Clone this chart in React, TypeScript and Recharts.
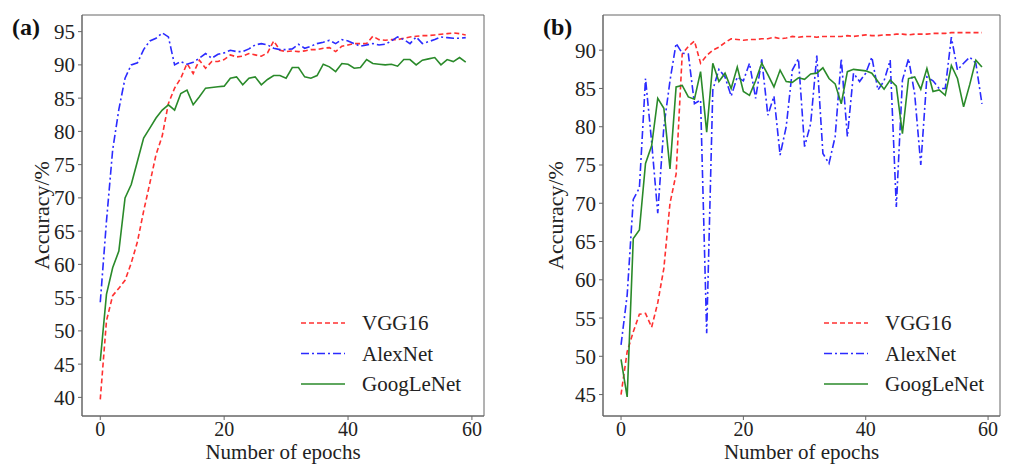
import { Line, LineChart, ReferenceArea, XAxis, YAxis } from 'recharts';

const FONT = '"Liberation Serif", "Times New Roman", serif';

// panel (a)
const vggA = [39.7, 51.5, 55.3, 56.4, 57.6, 60.2, 63.4, 68, 72.2, 76.5, 79.3, 84.2, 86.5, 88, 90.2, 88.7, 90.7, 89.5, 90.5, 90.5, 90.8, 91.5, 91.2, 91.3, 91.7, 91.5, 91.3, 91.8, 93.6, 92.2, 92, 92.1, 92, 92.1, 92.3, 92.3, 92.5, 92.6, 92, 92.8, 93, 93.2, 93.2, 93.2, 94.3, 93.8, 93.7, 93.8, 93.8, 94, 94.2, 94.3, 94.4, 94.4, 94.5, 94.6, 94.7, 94.8, 94.7, 94.5];
const alexA = [54.3, 66.5, 77.2, 83.3, 88, 90, 90.3, 92.3, 93.6, 94, 94.8, 94.2, 90, 90.5, 90.1, 90.4, 91, 91.7, 91, 91.6, 91.8, 92.2, 92, 92, 92.4, 93, 93.2, 93, 92.5, 92.3, 92.3, 92.4, 93.1, 92.5, 92.8, 93.2, 93.4, 93.7, 93.2, 93.8, 93.6, 93.2, 92.8, 93, 93.2, 93, 93.1, 93.6, 94.2, 93.8, 93.2, 94.2, 93.2, 93.5, 93.8, 94.2, 94.1, 94, 94, 94.1];
const googA = [45.5, 55.5, 59.5, 62, 70, 72, 75.5, 79, 80.5, 82, 83.2, 84, 83.2, 85.7, 86.2, 84, 85.2, 86.5, 86.6, 86.7, 86.8, 88, 88.2, 87, 88, 88.2, 87, 87.8, 88.4, 88.4, 88, 89.6, 89.6, 88.2, 88, 88.4, 90.1, 89.7, 89, 90.2, 90.1, 89.5, 89.6, 90.8, 90.2, 90.1, 90, 90.1, 89.8, 90.8, 90.8, 90, 90.7, 90.9, 91.1, 90, 90.8, 90.5, 91.1, 90.4];

// panel (b)
const vggB = [45, 50.6, 53.2, 55.5, 55.6, 53.8, 57, 61.5, 70, 73.8, 89.5, 90.5, 91.2, 88.3, 89.3, 90, 90.4, 91, 91.5, 91.4, 91.3, 91.4, 91.4, 91.5, 91.5, 91.7, 91.5, 91.6, 91.8, 91.7, 91.8, 91.8, 91.7, 91.8, 91.8, 91.8, 91.8, 91.9, 91.8, 91.9, 92, 91.9, 91.9, 92, 92, 92.1, 92.1, 92, 92.1, 92.1, 92.1, 92.2, 92.2, 92.2, 92.3, 92.3, 92.3, 92.3, 92.3, 92.3];
const alexB = [51.5, 58, 70.5, 72, 86.3, 78, 68.7, 80, 86, 90.9, 89.6, 89.5, 83, 83.5, 53, 84.8, 87.5, 86.5, 84, 86.5, 86, 88.3, 83.7, 88.8, 81.5, 84, 76.3, 80, 87.4, 88.9, 77.4, 80.4, 89.3, 76.5, 75.2, 78.7, 88.9, 78.7, 87, 85.9, 87, 89.1, 84.8, 86, 88.7, 69.5, 86.1, 88.9, 84.3, 75, 86.5, 86, 85, 85, 91.7, 87.4, 88.3, 89.1, 88.3, 83];
const googB = [49.6, 44.7, 65.4, 66.5, 75.2, 77.5, 83.7, 82.4, 74.5, 85.2, 85.4, 83.9, 83.6, 87.2, 79.3, 88.3, 85.9, 87, 85, 87.8, 84.6, 84.1, 86, 88.3, 86.8, 85.2, 87.4, 85.9, 85.8, 86.4, 86.2, 86.9, 87, 87.7, 86.3, 85.6, 83, 87.2, 87.5, 87.4, 87.3, 87, 85.9, 84.9, 86.1, 85.3, 79.1, 86.3, 86.5, 84.9, 87.6, 84.6, 84.8, 84.1, 88, 86.3, 82.6, 85.5, 88.7, 87.8];

const xTicks = [0, 20, 40, 60];
const yTicksA = [40, 45, 50, 55, 60, 65, 70, 75, 80, 85, 90, 95];
const yTicksB = [45, 50, 55, 60, 65, 70, 75, 80, 85, 90];
const seriesNames = ['VGG16', 'AlexNet', 'GoogLeNet'];

const X_DOMAIN: [number, number] = [-2.95, 61.95];
const RED = '#ff3030';
const BLUE = '#2b2bff';
const GREEN = '#2a8a2a';
const AXIS = '#666';

const styles = [
  { key: 'vgg', color: RED, dash: '5 3' },
  { key: 'alex', color: BLUE, dash: '8 3 2 3' },
  { key: 'goog', color: GREEN, dash: undefined },
];

function rows(vgg: number[], alex: number[], goog: number[]) {
  return vgg.map((v, i) => ({ epoch: i, vgg: v, alex: alex[i], goog: goog[i] }));
}

function LegendBox({ left }: { left: number }) {
  return (
    <svg width={200} height={95} style={{ position: 'absolute', left, top: 308, fontFamily: FONT }}>
      {styles.map((s, i) => (
        <g key={s.key}>
          <line x1={1} x2={45} y1={15 + i * 30.5} y2={15 + i * 30.5} stroke={s.color} strokeWidth={1.6} strokeDasharray={s.dash} />
          <text x={62} y={15 + i * 30.5} dominantBaseline="central" fontSize={21} fill="#222">{seriesNames[i]}</text>
        </g>
      ))}
    </svg>
  );
}

type PanelProps = {
  left: number;
  width: number;
  yWidth: number;
  right: number;
  yDomain: [number, number];
  yTicks: number[];
  vgg: number[];
  alex: number[];
  goog: number[];
  letter: string;
  letterX: number;
  legendLeft: number;
  yLabelDx: number;
};

function Panel(p: PanelProps) {
  const data = rows(p.vgg, p.alex, p.goog);
  const tickStyle = { fill: '#222', fontSize: 20, fontFamily: FONT };
  return (
    <div style={{ position: 'absolute', left: p.left, top: 0, width: p.width, height: 464 }}>
      <LineChart width={p.width} height={464} data={data} margin={{ top: 15, right: p.right, bottom: 0, left: 0 }}>
        <XAxis
          dataKey="epoch"
          type="number"
          domain={X_DOMAIN}
          ticks={xTicks}
          interval={0}
          allowDataOverflow
          height={48}
          tickSize={4}
          tickMargin={2}
          stroke={AXIS}
          tick={tickStyle}
          label={{ value: 'Number of epochs', position: 'center', dy: 12, fill: '#222', fontSize: 21, fontFamily: FONT }}
        />
        <YAxis
          type="number"
          domain={p.yDomain}
          ticks={p.yTicks}
          interval={0}
          allowDataOverflow
          width={p.yWidth}
          tickSize={4}
          tickMargin={3}
          stroke={AXIS}
          tick={{ ...tickStyle, fontSize: 21 }}
          label={{ value: 'Accuracy/%', angle: -90, position: 'center', dx: p.yLabelDx, fill: '#222', fontSize: 22, fontFamily: FONT }}
        />
        <ReferenceArea x1={X_DOMAIN[0]} x2={X_DOMAIN[1]} y1={p.yDomain[0]} y2={p.yDomain[1]} fill="none" stroke={AXIS} strokeWidth={1} ifOverflow="visible" />
        {styles.map((s, i) => (
          <Line
            key={s.key}
            dataKey={s.key}
            name={seriesNames[i]}
            type="linear"
            stroke={s.color}
            strokeWidth={1.6}
            strokeDasharray={s.dash}
            dot={false}
            isAnimationActive={false}
          />
        ))}
      </LineChart>
      <LegendBox left={p.legendLeft} />
      <div style={{ position: 'absolute', left: p.letterX, top: 14, fontFamily: FONT, fontWeight: 'bold', fontSize: 24, color: '#111' }}>{p.letter}</div>
    </div>
  );
}

export default function App() {
  return (
    <div style={{ position: 'fixed', left: 0, top: 0, width: 1014, height: 464, background: '#fff' }}>
      <Panel left={0} width={500} yWidth={82} right={16} yDomain={[37.2, 97.5]} yTicks={yTicksA} vgg={vggA} alex={alexA} goog={googA} letter="(a)" letterX={12} legendLeft={300} yLabelDx={0} />
      <Panel left={520} width={494} yWidth={83} right={14} yDomain={[42.2, 94.6]} yTicks={yTicksB} vgg={vggB} alex={alexB} goog={googB} letter="(b)" letterX={23} legendLeft={303} yLabelDx={-6} />
    </div>
  );
}
